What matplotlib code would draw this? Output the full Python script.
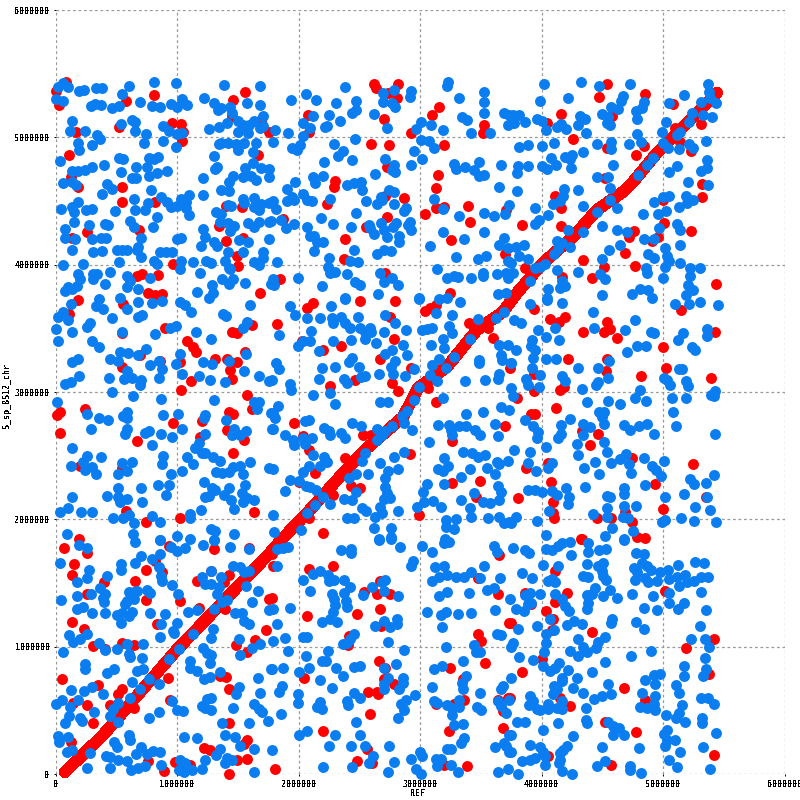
import matplotlib
matplotlib.use("Agg")
import matplotlib.pyplot as plt
import numpy as np

# All coordinates are in kilobases (REF position, query position)
diagonal = [(78,16),(391,306),(997,974),(1765,1736),(1873,1854),(2070,2050),(2317,2310),(2547,2545),(2860,2804),(2984,3032),(3222,3197),(3469,3488),(3683,3629),(3798,3778),(4012,4014),(4259,4218),(4457,4430),(4671,4572),(4753,4650),(4951,4878),(5082,5004),(5222,5137),(5387,5295),(5443,5350)]

blue_nw = [(22,5392),(63,5423),(105,5397),(196,5361),(235,5371),(331,5389),(381,5384),(604,5400),(544,5337),(814,5431),(994,5423),(5,5298),(63,5285),(290,5246),(326,5259),(373,5256),(469,5230),(519,5248),(693,5274),(795,5243),(858,5235),(949,5259),(1002,5240),(1043,5298),(1082,5251),(138,5125),(119,5050),(246,5047),(541,5105),(629,5139),(657,5123),(651,5047),(883,5089),(933,5052),(742,5024),(345,5018),(367,4984),(188,4958),(298,4940),(196,4898),(726,4958),(883,4971),(1002,5026),(1043,5037),(994,4922),(39,4812),(519,4841),(555,4827),(767,4841),(814,4833),(845,4843),(400,4780),(660,4765),(753,4767),(138,4739),(188,4739),(243,4741),(304,4765),(538,4726),(627,4678),(665,4678),(767,4699),(836,4718),(919,4733),(63,4639),(133,4647),(168,4626),(422,4631),(464,4592),(386,4553),(787,4589),(646,4514),(759,4482),(867,4529),(919,4493),(947,4452),(1002,4462),(1029,4519),(1098,4545),(1073,4495),(1071,4443),(1098,4388),(188,4490),(138,4451),(152,4412),(47,4441),(248,4428),(298,4441),(489,4420),(651,4430),(734,4428),(834,4378),(155,4334),(279,4310),(406,4323),(428,4313),(610,4341),(643,4294),(803,4294),(80,4279),(80,4208),(160,4200),(298,4200),(373,4213),(414,4211),(701,4213),(1002,4200),(1029,4211),(138,4114),(312,4098),(386,4106),(505,4116),(547,4116),(588,4119),(682,4137),(674,4114),(701,4059),(519,4024),(864,4098),(911,4103),(961,4103),(814,4027),(836,4006),(1032,4030),(63,3997),(224,4008),(1132,4024),(1223,5306),(1305,5269),(1339,5214),(1361,5227),(1435,5240),(1452,5188),(1383,5410),(1579,5267),(1686,5251),(1686,5400),(1706,5170),(1264,5063),(1347,5078),(1410,5110),(1504,5125),(1540,5097),(1595,5097),(1637,5131),(1686,5071),(1711,5091),(1499,5039),(1581,5031),(1347,4948),(1361,4958),(1416,4958),(1485,4945),(1504,4901),(1554,4958),(1623,4888),(1650,4958),(1305,4851),(1333,4770),(1311,4749),(1214,4678),(1214,4545),(1361,4587),(1425,4582),(1457,4695),(1430,4651),(1545,4690),(1562,4757),(1628,4796),(1609,4699),(1653,4663),(1692,4757),(1761,4749),(1761,4687),(1540,4515),(1554,4488),(1637,4520),(1416,4467),(1444,4462),(1319,4415),(1361,4394),(1355,4336),(1416,4331),(1471,4300),(1438,4265),(1581,4331),(1678,4334),(1637,4294),(1637,4454),(1678,4428),(1692,4477),(1761,4482),(1761,4336),(1512,4195),(1587,4177),(1195,4143),(1228,4221),(1214,4279),(1305,4177),(1333,4148),(1540,4098),(1416,4098),(1706,4103),(1761,4200),(1236,4030),(1283,4016),(1394,4027),(1637,4022),(1706,4055),(1678,3997),(1430,3976)]
red_nw = [(8,5366),(83,5436),(28,5253),(168,5039),(582,5282),(519,5084),(814,5329),(955,5115),(1029,5105),(1052,5039),(1043,4969),(113,4861),(130,4690),(182,4608),(544,4608),(544,4490),(817,4495),(690,4273),(262,4260),(135,4208),(966,4008),(1562,5353),(1457,5293),(1452,5170),(1761,5039),(1664,4861),(1402,4462),(1532,4452),(1347,4300),(1405,4185),(1545,4213),(1496,4071),(1499,3990),(1692,5136)]

blue_n = [(1937,5297),(2058,5344),(2141,5297),(2306,5273),(2383,5398),(2474,5284),(2441,5195),(2477,5214),(2248,5174),(2339,5128),(2220,5078),(2234,5088),(2041,5109),(2096,5076),(2116,5169),(2620,5180),(2697,5352),(2785,5370),(2694,5281),(2771,5266),(2791,5237),(2928,5367),(2917,5318),(2727,5070),(3006,5117),(2970,5065),(3091,5096),(3187,5057),(3231,5435),(3220,5404),(3322,5305),(3523,5359),(3529,5281),(3523,5195),(3342,5156),(3383,5138),(3419,5031),(3579,5031),(3694,5195),(3736,5174),(3722,5096),(1810,5055),(1917,5036),(2041,5013),(1793,4961),(1945,4914),(1986,4901),(2014,4940),(2289,4945),(2463,4984),(2366,4896),(2325,4857),(2441,4820),(2207,4807),(2714,4828),(2785,4781),(2766,4745),(2794,4724),(2928,4781),(2950,4891),(3017,4828),(3006,4977),(3074,4971),(3116,4919),(3276,4789),(3298,4750),(3369,4766),(3488,4810),(3446,4745),(3488,4698),(3529,4701),(3670,4781),(3653,4612),(2631,4711),(2198,4695),(2116,4690),(2132,4638),(1975,4648),(1909,4594),(2399,4625),(2455,4641),(2515,4648),(2523,4586),(2744,4589),(2788,4570),(2041,4557),(2069,4510),(2110,4497),(1945,4529),(1904,4497),(1964,4510),(1793,4497),(1815,4440),(2256,4516),(2557,4500),(2675,4531),(2647,4474),(2689,4510),(2785,4477),(2868,4419),(2882,4443),(2471,4406),(2182,4367),(2281,4320),(2430,4297),(2074,4297),(1959,4320),(1898,4289),(1854,4352),(1774,4341),(2579,4315),(2592,4289),(2620,4242),(2675,4331),(2703,4276),(2730,4219),(2799,4328),(2780,4294),(2917,4333),(2901,4315),(2928,4271),(2826,4224),(2826,4177),(2096,4224),(2129,4224),(2152,4180),(2201,4180),(2124,4109),(2455,4117),(2647,4086),(2703,4115),(2763,4109),(2248,4055),(2427,4026),(2490,4023),(1826,4023),(3083,4148),(3190,4258),(3364,4203),(3529,4258),(3689,4211),(3647,4151),(3722,4130),(3300,4063),(3474,4047),(3543,4068),(3722,4029),(3143,3969),(2240,3984),(2262,3938),(2303,3945),(2399,3930),(2672,3938),(2703,3867),(2771,3899),(2818,3844),(1994,3898),(1793,3885),(1798,3839),(2193,3833),(2463,3867),(2504,3844),(3220,3898),(3276,3912),(3309,3906),(3419,3898),(3515,3938),(3521,3912),(3631,3930),(3708,3938),(3727,3898),(2380,3742),(2653,3766),(2992,3735),(3639,3766),(3708,3781),(3226,3735),(3736,4466),(3703,4401),(3529,4406),(3606,4385),(3322,4383),(3190,4440),(3116,4516)]
red_n = [(2620,5422),(2639,5391),(2818,5422),(2736,5352),(2813,5310),(2080,5174),(2703,5141),(3157,5242),(3102,5174),(2923,5031),(3529,5096),(3518,5031),(2083,5044),(2595,4945),(2744,4937),(3198,4937),(2730,4768),(3152,4701),(2298,4656),(2289,4607),(3135,4602),(2716,4542),(2871,4523),(2234,4474),(3135,4445),(3198,4453),(3391,4461),(3041,4401),(2727,4375),(3413,4336),(1876,4359),(2559,4294),(2380,4203),(3256,4195),(2377,4047),(3703,4086),(2711,3938),(1849,3891),(3251,3774),(3708,4432)]

blue_ne = [(4022,5422),(4327,5435),(4476,5406),(4731,5422),(3989,5289),(4220,5312),(4674,5323),(4654,5286),(4847,5279),(4825,5232),(4778,5206),(4789,5146),(4569,5240),(4632,5219),(4495,5180),(4550,5161),(4536,5109),(4564,5096),(4319,5167),(4357,5146),(4302,5096),(4363,5031),(4124,5083),(4160,5104),(4198,5062),(4041,5057),(3959,5141),(4008,5128),(3862,5117),(3766,5174),(3813,5172),(3772,5109),(5169,5331),(5053,5271),(5367,5422),(5375,5357),(5389,5305),(5436,5273),(5312,5276),(5328,5174),(5403,5161),(5237,5193),(5210,5122),(5026,5122),(4990,5042),(5141,5044),(5114,5018),(4784,5026),(4817,4966),(4723,4948),(4459,4945),(4569,4966),(4572,4909),(4341,4888),(4105,4956),(4006,4930),(3890,4937),(3816,4927),(5004,4953),(5045,4914),(5130,4911),(5210,4945),(5251,4914),(5350,4969),(4080,4839),(4195,4844),(4253,4862),(4234,4831),(4003,4776),(4047,4753),(4116,4779),(4245,4758),(3890,4773),(3808,4776),(3799,4719),(4586,4781),(5359,4823),(5361,4758),(5312,4737),(5114,4773),(5053,4727),(4454,4688),(4550,4688),(4921,4836),(4866,4784),(4798,4706),(5202,4648),(5367,4625),(3799,4578),(4187,4594),(4302,4586),(4567,4604),(4179,4536),(4096,4479),(4151,4497),(3948,4448),(4344,4461),(4564,4510),(4619,4445),(5004,4531),(5051,4536),(4927,4492),(5188,4536),(5196,4484),(5251,4508),(5128,4453),(4839,4401),(4957,4401),(5023,4422),(4055,4391),(3981,4354),(3945,4320),(4495,4305),(4220,4271),(4344,4258),(4619,4271),(4701,4258),(4971,4289),(5119,4323),(5136,4271),(4847,4201),(4929,4203),(4646,4156),(4558,4117),(5144,4154),(5020,4133),(4875,4086),(4929,4050),(5031,4068),(5053,4029),(5018,3984),(5144,4016),(5224,3977),(5301,3977),(5224,3912),(5202,3841),(5246,3800),(5004,3898),(4861,3977),(4866,3932),(4500,4047),(4302,3945),(4129,3961),(4481,3925),(4522,3885),(4165,3872),(4193,3833),(4151,3813),(4055,3807),(4124,4185),(4165,4172),(4234,4141),(4132,4120),(3794,4141),(3857,4151),(3816,4068),(3890,4047),(3752,4016),(3766,3938),(4500,3760),(4743,3768),(4811,3807),(4880,3800),(4907,3742),(5191,3760),(4047,3735),(4454,4414),(3904,3872),(3945,3977),(3986,3984),(4028,4003),(4105,4081)]
red_ne = [(4542,5422),(4476,5320),(4855,5344),(5444,5354),(5081,5258),(4162,5187),(4047,5109),(4578,5169),(5312,5107),(5100,5070),(4256,4984),(4536,4914),(4847,4935),(4776,4859),(5141,4966),(5232,4893),(4522,4680),(5320,4633),(4107,4542),(5317,4531),(4998,4510),(4157,4445),(3841,4312),(4157,4302),(5012,4326),(5227,4266),(4759,4268),(4723,4214),(4962,4214),(4908,4185),(4690,4094),(4344,4039),(4773,3992),(4517,3984),(3862,3977),(4170,3906),(4418,3898),(5433,3852)]

blue_w = [(187,3926),(201,3886),(174,3834),(132,3807),(77,3794),(105,3821),(311,3926),(306,3886),(339,3926),(449,3944),(408,3847),(587,3913),(614,3873),(587,3821),(683,3807),(777,3899),(1022,3965),(1190,3934),(1367,3886),(1433,3965),(1460,3886),(1427,3847),(1559,3855),(1289,3839),(1298,3781),(1262,3742),(1165,3786),(1771,3847),(532,3742),(361,3734),(124,3694),(333,3676),(388,3655),(683,3710),(793,3702),(876,3718),(592,3655),(1022,3710),(1063,3681),(1116,3631),(1601,3686),(1377,3615),(1405,3594),(63,3629),(22,3589),(99,3565),(463,3584),(683,3592),(716,3605),(284,3544),(262,3510),(1579,3550),(1543,3505),(8,3497),(138,3473),(545,3471),(815,3458),(945,3505),(992,3518),(1154,3473),(17,3402),(303,3402),(361,3355),(1278,3413),(741,3339),(532,3316),(598,3308),(675,3292),(1022,3302),(449,3263),(518,3247),(187,3260),(138,3237),(851,3247),(777,3213),(876,3181),(989,3221),(1212,3237),(1287,3216),(1427,3242),(1570,3295),(1551,3163),(587,3163),(1041,3142),(1179,3124),(1273,3095),(1397,3079),(1672,3126),(1755,3087),(196,3126),(441,3110),(567,3105),(628,3110),(703,3097),(694,3058),(851,3110),(124,3079),(77,3060),(463,3000),(634,2971),(865,2945),(14,2921),(1303,2937),(1634,2921),(1675,2921),(1661,2866),(1771,2834),(262,2826),(587,2840),(554,2813),(592,2795),(361,2795),(435,2779),(882,2819),(1008,2826),(1229,2821),(1220,2795),(1402,2779),(295,2711),(592,2708),(573,2669),(766,2690),(738,2677),(865,2671),(959,2645),(1041,2711),(1468,2711),(1454,2663),(1565,2690),(1518,2663),(1785,2708),(1229,2671),(1185,2598),(1152,2563),(791,2582),(138,2558),(262,2498),(229,2453),(377,2487),(882,2498),(876,2432),(1083,2490),(1207,2524),(1234,2519),(1295,2490),(1353,2461),(1130,2432),(1601,2450),(1758,2400),(127,2416),(242,2387),(298,2408),(331,2358),(545,2440),(628,2448),(512,2358),(592,2379),(948,2358),(1041,2377),(1322,2371),(1372,2361),(1432,2369),(1460,2413),(1515,2419),(1543,2356),(1220,2290),(1287,2248),(1309,2229),(840,2269),(934,2269),(703,2243),(512,2243),(1427,2243),(1559,2269),(427,2185),(512,2172),(138,2177),(912,2195),(587,2156),(532,2137),(711,2140),(1532,2208),(1579,2169),(1543,2137),(1234,2177),(1262,2185),(1386,2190),(1441,2150),(1634,2150),(36,2058),(99,2087),(209,2061),(303,2061),(1198,2077),(1468,2079),(1105,2045),(1105,2011),(477,2014),(554,2014),(601,2032),(642,1974),(791,2027),(857,1982),(91,1887),(634,1887),(1276,1927),(1309,1909),(1468,1887),(997,1872),(1110,1848),(862,1835),(1303,1835)]
red_w = [(182,3726),(559,3694),(113,3610),(669,3913),(716,3926),(840,3918),(763,3776),(821,3760),(876,3768),(1683,3776),(898,3502),(545,3466),(1083,3402),(1132,3355),(1157,3316),(1455,3473),(1496,3465),(1620,3523),(1311,3263),(1413,3263),(1496,3237),(1557,3316),(1435,3174),(1025,3237),(862,3247),(697,3292),(545,3197),(1113,3084),(1455,3105),(1030,3016),(1579,2976),(1620,2866),(242,2866),(41,2842),(14,2819),(1427,2842),(1460,2826),(1209,2776),(967,2755),(1413,2703),(41,2677),(667,2613),(1187,2645),(1551,2621),(1460,2519),(201,2416),(545,2406),(1634,2061),(581,2066),(1022,2014),(741,1980),(196,1843)]

blue_c = [(1928,3677),(1975,3606),(2069,3583),(2179,3578),(2264,3677),(2382,3727),(2488,3591),(2716,3604),(2791,3543),(2275,3583),(2283,3543),(2349,3591),(2386,3538),(2422,3504),(2510,3499),(2551,3473),(2587,3504),(2598,3473),(2702,3473),(2884,3488),(2102,3480),(1843,3449),(2545,3417),(2430,3410),(2281,3402),(2033,3402),(2091,3402),(1992,3360),(2165,3325),(2636,3381),(2862,3370),(2890,3294),(2771,3333),(2716,3297),(2794,3244),(2441,3268),(2413,3236),(2496,3194),(2190,3189),(2298,3194),(1815,3228),(1840,3184),(2758,3194),(2950,3181),(2780,3142),(2661,3142),(2876,3126),(2165,3102),(2377,3105),(2399,3071),(2515,3118),(2551,3123),(1780,3092),(1931,3063),(1936,3018),(2116,2974),(2256,2992),(2298,2903),(2667,2921),(2736,2921),(1835,2887),(1793,2835),(1807,2793),(1788,2709),(2055,2772),(2083,2782),(2207,2716),(2248,2690),(2262,2664),(2350,2677),(2386,2638),(2441,2756),(2515,2732),(1893,2664),(1953,2625),(1959,2585),(2041,2638),(2110,2638),(2055,2590),(2647,2709),(2689,2664),(2716,2690),(2647,2625),(2771,2735),(2868,2756),(2931,2703),(2116,2504),(2212,2486),(2234,2454),(2179,2415),(2083,2415),(2033,2375),(1794,2399),(1926,2307),(2000,2302),(1890,2220),(2063,2262),(2096,2257),(2143,2231),(2256,2123),(2372,2163),(2441,2152),(2477,2212),(2413,2323),(2477,2354),(2570,2354),(2669,2441),(2818,2394),(2736,2380),(2716,2328),(2708,2257),(2730,2205),(2702,2160),(2752,2170),(2523,2092),(2556,2068),(2667,2100),(2689,2047),(2628,2021),(2815,2063),(2399,2010),(2455,2010),(1793,2034),(1801,1903),(2019,1916),(2620,1934),(2763,1929),(2661,1842),(2758,1858),(2972,2094),(3033,2139),(3107,2147),(3171,2094),(3028,2212),(3061,2278),(3198,2278),(3152,2396),(3193,2383),(3229,2417),(3339,2336),(3413,2394),(3548,2402),(3620,2354),(3653,2433),(3727,2457),(3198,2480),(3355,2527),(3432,2520),(3474,2488),(3537,2504),(3631,2449),(3074,2604),(3639,2656),(3152,2740),(3240,2743),(3254,2698),(3267,2659),(3322,2730),(3377,2730),(3451,2703),(3493,2664),(3620,2748),(3375,2824),(3521,2843),(3670,2884),(3736,2856),(3190,2953),(3372,3087),(3537,3095),(3647,3144),(3639,3102),(3488,3255),(3482,3228),(3667,3294),(3672,3255),(3749,3228),(3653,3373),(3722,3367),(3088,3367),(3193,3417),(3198,3346),(3102,3215),(3157,3260),(3019,3486),(3061,3496),(3102,3504),(3130,3622),(3267,3606),(3240,3522),(3267,3465),(3474,3575),(3157,3727),(2992,3727),(3328,3706),(3576,2126),(3515,2139),(3446,2205),(3336,2150),(3413,2087),(3419,2021),(3639,2262),(3667,2218),(3653,2152),(3557,2008),(3653,2021),(3694,1968),(3736,1982),(3218,1995),(3300,2003),(3218,1942),(3281,1926),(3204,1848),(2074,2047),(2132,2113),(2198,2178),(2551,2520),(2523,2462),(2854,2808),(2895,2853),(2950,2940),(2992,3037),(3083,3137),(3143,3084),(3212,3189),(3276,3276),(3411,3417),(3625,3583),(3694,3630),(2785,2493),(2868,2525)]
red_c = [(2116,3701),(2069,3656),(1826,3535),(2504,3714),(2793,3714),(2752,3588),(3039,3635),(3083,3661),(3130,3680),(3400,3543),(2028,3404),(2201,3333),(2347,3365),(2785,3417),(2669,3260),(2923,3189),(2463,3097),(2256,3050),(2771,3071),(2818,3008),(3135,2924),(3069,3031),(1959,2756),(2041,2651),(2083,2546),(2529,2664),(2598,2664),(2380,2480),(2920,2512),(2132,2362),(2000,2296),(3262,2283),(3496,2299),(3267,2619),(3697,2732),(3457,2178),(2435,2265),(2504,2244),(2281,2192),(2995,2031),(2198,1890),(2088,2008),(3598,3425),(3741,3189),(3537,3517),(3474,3504),(3557,3504)]

blue_e = [(3909,3693),(4047,3719),(4171,3696),(4427,3627),(3777,3564),(3835,3543),(4107,3504),(3972,3488),(4435,3504),(4691,3488),(4766,3567),(4041,3433),(4146,3410),(3923,3410),(3917,3360),(3793,3331),(3945,3333),(3931,3268),(4039,3257),(4118,3257),(4901,3472),(4929,3465),(4782,3362),(4857,3362),(4700,3315),(5096,3693),(5218,3693),(5301,3706),(5449,3685),(5163,3465),(5124,3410),(5361,3496),(5364,3438),(5240,3354),(5262,3328),(4556,3242),(4303,3189),(4468,3189),(3923,3189),(3752,3228),(3986,3136),(4551,3110),(4165,3123),(4193,3084),(3876,3102),(3890,3058),(3981,3037),(3752,3031),(3766,2966),(4336,3026),(4449,3052),(4468,3079),(4807,3018),(4771,2953),(4862,2926),(4551,2929),(4377,2924),(4650,2905),(5005,3110),(5061,3052),(5033,3097),(5130,3184),(5157,3184),(5190,3084),(5207,3045),(5072,2953),(5187,2953),(5391,2974),(5432,3005),(5419,2966),(5080,2843),(4474,2840),(4518,2840),(4499,2801),(4518,2748),(4234,2785),(4344,2745),(4402,2727),(4683,2743),(4730,2703),(4799,2730),(4868,2748),(5105,2732),(5427,2672),(4923,2669),(3926,2735),(3868,2780),(3972,2685),(3959,2638),(4157,2738),(4138,2638),(4157,2669),(4344,2661),(4033,2567),(4289,2591),(4512,2604),(3777,2543),(3909,2528),(4537,2528),(4303,2504),(4694,2512),(4642,2472),(4438,2449),(4570,2441),(4843,2480),(5005,2457),(4722,2436),(3890,2441),(4083,2441),(4055,2402),(3953,2378),(4347,2402),(4477,2354),(4736,2362),(4909,2422),(4942,2388),(4981,2339),(5419,2346),(5220,2315),(5259,2278),(5355,2283),(4849,2268),(4361,2252),(4198,2244),(3887,2228),(3945,2228),(4006,2215),(4083,2223),(4124,2192),(4683,2244),(4683,2197),(4537,2186),(4565,2178),(4229,2173),(4220,2118),(5171,2197),(5364,2178),(5019,2173),(5262,2094),(5386,2071),(4683,2105),(4543,2086),(4780,2105),(4063,2068),(3791,2021),(4422,2042),(4537,2016),(4669,2016),(4716,2013),(3964,1984),(4992,1982),(5014,1995),(5149,2013),(5254,1984),(5438,1976),(3752,1974),(4581,1929),(4755,1911),(4033,1874),(4526,1866),(4677,1842)]
red_e = [(3939,3654),(4072,3575),(4193,3588),(4146,3551),(5146,3646),(4344,3472),(4537,3551),(4565,3496),(4518,3472),(4620,3425),(5427,3472),(4997,3354),(4220,3260),(4543,3260),(5022,3189),(4529,3163),(4815,3126),(5394,3110),(3937,3139),(4151,3018),(4184,3039),(3937,3010),(3799,2953),(4116,2874),(3917,2827),(3945,2827),(4336,2695),(4468,2669),(4402,2583),(4744,2483),(3871,2407),(4055,2441),(5245,2433),(4080,2294),(4931,2276),(3810,2165),(4096,2136),(4997,2079),(4096,2047),(4105,2013),(4455,2013),(4573,2013),(4691,2055),(4744,1979),(4788,1863),(4854,1855),(4325,1842),(5350,2178)]

blue_sw = [(196,1801),(262,1772),(658,1819),(857,1837),(953,1785),(1000,1753),(1063,1772),(1212,1798),(1303,1837),(1435,1780),(1592,1766),(41,1654),(537,1648),(537,1604),(705,1714),(653,1654),(862,1730),(793,1688),(849,1627),(865,1557),(873,1517),(959,1486),(278,1601),(262,1538),(427,1557),(174,1504),(1460,1635),(1551,1583),(1592,1596),(1515,1622),(1207,1551),(1276,1596),(1364,1551),(1234,1496),(1276,1491),(1345,1465),(1331,1412),(1008,1410),(366,1457),(405,1417),(292,1417),(609,1431),(642,1431),(669,1439),(752,1446),(774,1420),(174,1394),(47,1365),(388,1381),(402,1352),(642,1378),(587,1355),(568,1339),(179,1299),(229,1312),(298,1268),(405,1268),(504,1252),(545,1268),(601,1242),(628,1273),(774,1268),(904,1260),(537,1189),(871,1181),(1000,1189),(1088,1276),(1165,1289),(1474,1268),(1532,1263),(1620,1347),(1670,1436),(1565,1473),(1758,1286),(1551,1202),(1592,1176),(1295,1137),(972,1110),(967,1123),(857,1079),(1132,1103),(1278,1066),(1510,1058),(113,1089),(141,1037),(201,1063),(262,1103),(361,1032),(504,984),(587,1018),(719,1021),(61,961),(408,974),(601,940),(614,919),(711,914),(1212,992),(1243,953),(1276,932),(1270,874),(1518,932),(1620,992),(1683,1024),(1105,887),(1110,835),(1165,808),(240,861),(240,827),(421,795),(485,822),(669,808),(724,822),(1771,827),(1358,803),(1226,743),(1270,764),(1667,753),(628,724),(849,703),(1510,685),(124,661),(237,651),(298,682),(388,630),(1485,630),(1683,638),(187,585),(50,585),(8,546),(118,525),(320,488),(110,454),(201,441),(215,415),(80,402),(518,412),(766,441),(854,486),(959,572),(1000,499),(1050,494),(1276,599),(1248,591),(1207,533),(1234,520),(1281,501),(1460,520),(1634,546),(1675,507),(1703,488),(1749,420),(1592,402),(1369,402),(22,297),(99,291),(30,252),(601,310),(614,270),(482,249),(510,213),(1061,291),(1165,281),(1399,307),(1477,291),(1518,223),(1634,199),(284,165),(96,173),(132,186),(416,139),(449,131),(518,113),(592,102),(664,157),(700,213),(752,157),(802,184),(862,173),(262,47),(449,47),(623,32),(683,47),(738,60),(871,68),(1014,34),(1028,113),(1069,87),(1124,34),(1207,42),(1229,113),(1317,152),(1358,197),(1413,126),(1455,113),(1399,87),(1634,16),(1083,47),(1055,16),(477,507),(518,559),(449,454),(614,599),(766,743),(697,664),(931,900),(1014,979),(1303,1299),(1372,1347),(1413,1365)]
red_sw = [(72,1772),(262,1735),(154,1649),(138,1562),(399,1509),(658,1515),(747,1599),(876,1583),(821,1675),(931,1793),(1303,1767),(1592,1772),(1165,1517),(1276,1596),(1425,1562),(1386,1504),(256,1417),(744,1370),(1025,1362),(1394,1294),(1179,1307),(138,1197),(835,1181),(237,1137),(1758,1378),(1736,1134),(311,1005),(545,1032),(408,984),(642,1016),(1482,1011),(1579,961),(1642,1053),(50,748),(347,701),(923,756),(1358,769),(1400,764),(1427,667),(545,669),(518,625),(262,543),(146,559),(449,541),(642,520),(945,585),(311,402),(1430,402),(124,249),(1220,205),(1270,186),(1579,270),(1551,239),(1579,121),(1496,108),(758,105),(986,94),(1105,73),(890,24),(1427,0)]

blue_s = [(2661,1837),(2758,1845),(2835,1780),(2347,1756),(2430,1767),(2430,1732),(1917,1780),(1876,1772),(1821,1767),(3019,1788),(3099,1740),(3198,1814),(3240,1819),(3612,1788),(3634,1740),(2942,1675),(2923,1635),(1826,1633),(2116,1567),(2174,1596),(2240,1562),(2033,1525),(2248,1517),(2289,1525),(2377,1520),(2091,1441),(2275,1417),(2289,1378),(2303,1328),(2281,1276),(2372,1425),(2388,1360),(2399,1312),(2427,1465),(2606,1465),(2529,1404),(2716,1525),(2689,1504),(2703,1439),(2818,1394),(1931,1307),(1788,1294),(1826,1179),(2262,1221),(2193,1194),(2317,1194),(2813,1221),(2813,1176),(2703,1202),(2749,1158),(2628,1163),(2455,1103),(2427,1058),(2399,1026),(2366,1024),(2033,1079),(2069,1079),(1893,1071),(1793,1047),(2736,1040),(2871,974),(2240,969),(1917,969),(2061,929),(2193,890),(2226,887),(2085,835),(2309,835),(2455,843),(2510,851),(2705,835),(2802,866),(1876,835),(1780,827),(2008,803),(2364,772),(2176,740),(1868,690),(1843,646),(2273,677),(2736,756),(2703,703),(2703,667),(2862,756),(2862,717),(2826,664),(2455,638),(2504,599),(2399,577),(2405,541),(1994,625),(1994,559),(2179,567),(2152,525),(2193,507),(2959,622),(2882,580),(2846,546),(2868,501),(2818,436),(1854,472),(2471,410),(2000,304),(2069,339),(2298,307),(2504,304),(2248,218),(2430,218),(2545,218),(2744,218),(1785,189),(2614,139),(2584,87),(2788,92),(2198,52),(2441,52),(2736,16),(2928,118),(3003,173),(3019,144),(2964,42),(3006,0),(3061,1276),(3171,1250),(3218,1276),(3314,1260),(3419,1268),(3620,1291),(3157,1394),(3226,1433),(3405,1425),(3548,1444),(3606,1457),(3102,1515),(3157,1544),(3226,1564),(3300,1544),(3364,1551),(3419,1583),(3490,1536),(3661,1536),(3124,1622),(3198,1635),(3524,1635),(3182,1158),(3634,1103),(3667,1092),(3218,1000),(3446,1013),(3460,961),(3496,961),(3355,890),(3185,848),(3116,822),(3377,769),(3342,717),(3350,664),(3102,685),(3317,585),(3490,633),(3116,572),(3143,554),(3226,541),(3267,520),(3322,525),(3267,462),(3466,525),(3501,499),(3681,690),(3667,664),(3639,572),(3667,533),(3708,480),(3736,585),(3281,381),(3350,394),(3364,283),(3336,244),(3694,244),(3708,218),(3736,310),(3620,213),(3736,173),(3226,197),(3259,197),(3135,121),(3171,121),(3143,66),(3256,71),(3309,16),(3639,16),(3722,39)]
red_s = [(2083,1609),(2281,1630),(2537,1431),(2667,1515),(2647,1417),(2752,1410),(1780,1386),(2069,1244),(2479,1260),(2672,1299),(2683,1163),(2413,1084),(2405,1011),(2661,885),(2716,835),(2047,756),(2703,743),(2785,703),(2576,643),(2647,643),(2653,625),(2587,472),(2198,339),(1804,39),(2479,102),(2565,197),(2606,87),(3648,1719),(3474,1536),(3645,1417),(3736,1189),(3474,1103),(3504,1047),(3537,874),(3243,835),(3350,743),(3364,585),(3130,546),(3281,546),(3645,585),(3725,599),(3681,494),(3686,362),(3240,339),(3198,73),(3383,63),(1790,1635),(1780,1727)]

blue_se = [(3766,1772),(3862,1759),(3898,1735),(4041,1767),(4083,1759),(4138,1788),(4165,1814),(4234,1819),(4242,1719),(4386,1814),(4380,1740),(4474,1759),(4529,1764),(4675,1837),(4774,1735),(4840,1725),(4014,1638),(4132,1635),(4377,1646),(4463,1635),(4504,1656),(4496,1596),(4504,1557),(4532,1525),(3840,1575),(3923,1536),(4083,1530),(4055,1517),(4344,1557),(4380,1551),(4826,1656),(4868,1635),(4901,1599),(4758,1614),(4785,1583),(4771,1522),(4851,1538),(4879,1504),(4953,1515),(4978,1583),(5039,1599),(5121,1638),(5262,1662),(5336,1654),(5047,1530),(5116,1544),(5185,1564),(5130,1478),(5198,1504),(5254,1512),(5314,1551),(5372,1544),(5311,1433),(5052,1425),(5047,1346),(5171,1346),(5121,1299),(4840,1307),(4950,1291),(5353,1291),(4917,1399),(4741,1417),(4565,1446),(4620,1381),(4510,1399),(4441,1457),(4413,1412),(4372,1404),(4386,1346),(4377,1299),(4110,1504),(4110,1412),(4165,1373),(4193,1320),(4226,1283),(3904,1425),(3862,1404),(3986,1412),(3917,1346),(3890,1333),(3738,1378),(3788,1294),(3854,1283),(4074,1215),(3959,1163),(3810,1137),(4212,1173),(4267,1202),(4331,1181),(4584,1215),(4573,1184),(4774,1192),(4840,1137),(5303,1163),(4102,1134),(4041,1103),(4041,1032),(4303,1058),(4524,1079),(4468,1040),(4446,992),(4344,997),(4377,961),(4234,969),(4298,929),(3766,1032),(3752,1000),(4022,958),(3815,921),(3931,898),(4733,929),(4901,969),(4526,882),(5229,1058),(5342,1058),(5378,1000),(5342,913),(5171,851),(5356,822),(5328,769),(5171,772),(4014,848),(4069,808),(4110,835),(4146,874),(4220,814),(4413,803),(4165,756),(4165,730),(4289,756),(4262,677),(4105,690),(4096,625),(4124,664),(4344,633),(3752,751),(4551,703),(4573,625),(4496,612),(4435,591),(4928,777),(4978,782),(4937,703),(4854,738),(4826,638),(4931,612),(4923,546),(4931,501),(4813,525),(4868,520),(5105,701),(5130,638),(5309,593),(5369,599),(5419,546),(5157,541),(5130,480),(5107,441),(5185,410),(5022,465),(5322,441),(5322,402),(5435,323),(5033,344),(5005,318),(5033,270),(5102,270),(5019,218),(5138,173),(4799,205),(5328,213),(4501,213),(5047,113),(5116,55),(5386,42),(4730,60),(4730,29),(4815,8),(4524,105),(4455,60),(4253,3),(4171,24),(3807,0),(4028,68),(3904,226),(3986,213),(4014,173),(4028,139),(3840,102),(3904,108),(3945,126),(4151,113),(4151,165),(4179,192),(4207,218),(4143,84),(3752,173),(4262,297),(4014,346),(3752,310),(4132,402),(3799,410),(3862,407),(4372,402),(4366,428),(4551,407),(4592,375),(4634,362),(4675,310),(4592,310),(3904,612),(3931,572),(3895,538),(3959,507),(3986,501),(4055,546),(4055,512),(4124,520),(4165,572),(4165,507),(4364,520)]
red_se = [(4330,1845),(4207,1425),(4110,1354),(4041,1278),(3917,1333),(3862,1425),(4091,1215),(4419,1118),(5419,1063),(5190,992),(4000,906),(3840,803),(3738,599),(4675,677),(4849,583),(4237,535),(4152,599),(4774,331),(5419,150),(4568,71),(4055,139),(5378,787),(4524,407),(5019,1438),(4083,1131),(3752,1189),(4110,1596)]

ticks = [0, 1000000, 2000000, 3000000, 4000000, 5000000, 6000000]
x_label = "REF"
y_label = "S_sp_BS12_chr"

red_points = red_nw + red_n + red_ne + red_w + red_c + red_e + red_sw + red_s + red_se
blue_points = blue_nw + blue_n + blue_ne + blue_w + blue_c + blue_e + blue_sw + blue_s + blue_se
red_xy = np.array(red_points) * 1000.0
blue_xy = np.array(blue_points) * 1000.0
diag_xy = np.array(diagonal) * 1000.0

plt.rcParams['text.antialiased'] = False
fig = plt.figure(figsize=(8, 8), dpi=100, facecolor='white')
ax = fig.add_axes([55.5/800, 26/800, 729/800, 764/800])
ax.set_xlim(0, 6000000)
ax.set_ylim(0, 6000000)
for s in ax.spines.values():
    s.set_visible(False)
ax.set_axisbelow(True)
ax.grid(True, color='#999999', linestyle=(0, (2.2, 2.2)), linewidth=0.9)
ax.set_xticks(ticks)
ax.set_yticks(ticks)
ax.ticklabel_format(style='plain')
ax.set_xticklabels([str(t) for t in ticks], family='DejaVu Sans Mono', fontsize=6, fontweight='bold')
ax.set_yticklabels([str(t) for t in ticks], family='DejaVu Sans Mono', fontsize=6, fontweight='bold')
ax.tick_params(axis='both', length=1.5, width=0.7, color='black', pad=2.5)

ax.plot(diag_xy[:, 0], diag_xy[:, 1], color='#ff0000', linewidth=7.9,
        solid_capstyle='round', solid_joinstyle='round', antialiased=False, zorder=2, clip_on=False)
sz = 62
c1 = ax.scatter(red_xy[:, 0], red_xy[:, 1], s=sz, c='#ff0000', linewidths=0, zorder=3, clip_on=False)
c2 = ax.scatter(blue_xy[:, 0], blue_xy[:, 1], s=sz, c='#0a7df0', linewidths=0, zorder=4, clip_on=False)
c1.set_antialiased(False)
c2.set_antialiased(False)

fig.text(418/800, 1-793/800, x_label, family='DejaVu Sans Mono', fontsize=6, fontweight='bold', ha='center', va='center')
fig.text(7/800, 1-395/800, y_label, family='DejaVu Sans Mono', fontsize=6, fontweight='bold', rotation=90, ha='center', va='center')

fig.savefig('out.png', dpi=100)
